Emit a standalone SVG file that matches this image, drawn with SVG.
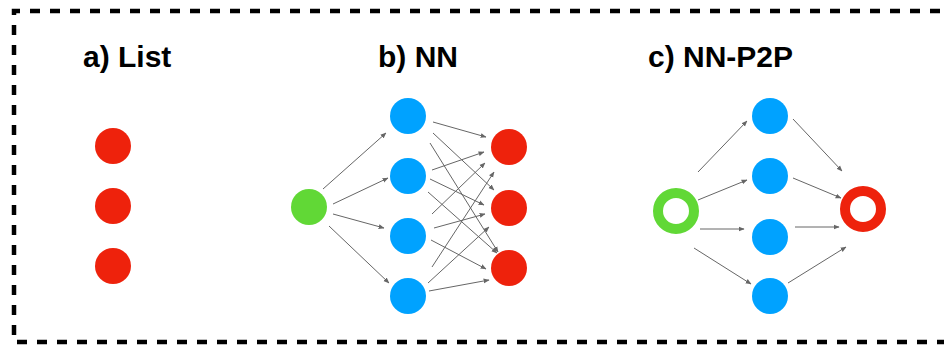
<svg xmlns="http://www.w3.org/2000/svg" width="944" height="346" viewBox="0 0 944 346">
  <defs>
    <marker id="arrow" viewBox="0 0 10 10" refX="9" refY="5" markerWidth="6" markerHeight="6" markerUnits="userSpaceOnUse" orient="auto">
      <path d="M0,1 L10,5 L0,9 Z" fill="#666"/>
    </marker>
    <style>
      .frame { fill: none; stroke: #000; stroke-width: 4.5; stroke-dasharray: 10 10; }
      .title { font-family: "Liberation Sans", Arial, sans-serif; font-weight: bold; font-size: 30px; fill: #000; }
      .red { fill: #EE220C; }
      .blue { fill: #00A2FF; }
      .green { fill: #61D836; }
      .ring-green { fill: none; stroke: #61D836; stroke-width: 10; }
      .ring-red { fill: none; stroke: #EE220C; stroke-width: 10; }
      .edge { stroke: #666; stroke-width: 1; fill: none; marker-end: url(#arrow); }
    </style>
  </defs>

  <rect width="944" height="346" fill="#fff"/>

  <!-- dashed frame (right edge runs off the canvas) -->
  <path class="frame" d="M960,11 L14,11 L14,342 L960,342"/>

  <!-- panel titles -->
  <text class="title" x="83" y="67">a) List</text>
  <text class="title" x="378" y="67">b) NN</text>
  <text class="title" x="648" y="67">c) NN-P2P</text>

  <!-- a) list items -->
  <g id="list-1"><circle class="red" cx="113" cy="146" r="18"/></g>
  <g id="list-2"><circle class="red" cx="113" cy="206" r="18"/></g>
  <g id="list-3"><circle class="red" cx="113" cy="266" r="18"/></g>

  <!-- b) NN nodes -->
  <g id="nn-in"><circle class="green" cx="309" cy="207" r="18"/></g>
  <g id="nn-h1"><circle class="blue" cx="408" cy="116" r="18"/></g>
  <g id="nn-h2"><circle class="blue" cx="408" cy="176" r="18"/></g>
  <g id="nn-h3"><circle class="blue" cx="408" cy="236" r="18"/></g>
  <g id="nn-h4"><circle class="blue" cx="408" cy="296" r="18"/></g>
  <g id="nn-o1"><circle class="red" cx="509" cy="147" r="18"/></g>
  <g id="nn-o2"><circle class="red" cx="509" cy="208" r="18"/></g>
  <g id="nn-o3"><circle class="red" cx="509" cy="268" r="18"/></g>

  <!-- c) NN-P2P nodes -->
  <g id="p2p-in"><circle class="ring-green" cx="676" cy="211" r="18"/></g>
  <g id="p2p-h1"><circle class="blue" cx="770" cy="116" r="18"/></g>
  <g id="p2p-h2"><circle class="blue" cx="770" cy="176" r="18"/></g>
  <g id="p2p-h3"><circle class="blue" cx="770" cy="237" r="18"/></g>
  <g id="p2p-h4"><circle class="blue" cx="770" cy="296" r="18"/></g>
  <g id="p2p-out"><circle class="ring-red" cx="863" cy="209" r="18"/></g>

  <g id="connectors">
    <!-- NN: input to hidden -->
    <line class="edge" x1="323" y1="189" x2="386" y2="133"/>
    <line class="edge" x1="333" y1="204" x2="388" y2="178"/>
    <line class="edge" x1="333" y1="214" x2="384" y2="228"/>
    <line class="edge" x1="329" y1="226" x2="389" y2="283"/>
    <!-- NN: hidden to output -->
    <line class="edge" x1="433" y1="122" x2="486" y2="137"/>
    <line class="edge" x1="433" y1="133" x2="494" y2="190"/>
    <line class="edge" x1="430" y1="143" x2="498" y2="252"/>
    <line class="edge" x1="432" y1="170" x2="484" y2="152"/>
    <line class="edge" x1="430" y1="179" x2="484" y2="205"/>
    <line class="edge" x1="428" y1="192" x2="497" y2="253"/>
    <line class="edge" x1="432" y1="214" x2="485" y2="163"/>
    <line class="edge" x1="434" y1="228" x2="485" y2="214"/>
    <line class="edge" x1="431" y1="240" x2="486" y2="269"/>
    <line class="edge" x1="432" y1="267" x2="494" y2="172"/>
    <line class="edge" x1="428" y1="283" x2="489" y2="227"/>
    <line class="edge" x1="429" y1="291" x2="489" y2="280"/>
    <!-- NN-P2P: input to hidden -->
    <line class="edge" x1="698" y1="172" x2="747" y2="121"/>
    <line class="edge" x1="698" y1="200" x2="747" y2="180"/>
    <line class="edge" x1="700" y1="229" x2="744" y2="229"/>
    <line class="edge" x1="694" y1="248" x2="751" y2="284"/>
    <!-- NN-P2P: hidden to output -->
    <line class="edge" x1="793" y1="119" x2="842" y2="171"/>
    <line class="edge" x1="793" y1="178" x2="841" y2="198"/>
    <line class="edge" x1="795" y1="227" x2="839" y2="227"/>
    <line class="edge" x1="788" y1="283" x2="846" y2="247"/>
  </g>
</svg>
